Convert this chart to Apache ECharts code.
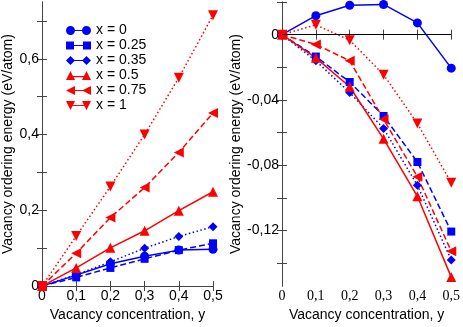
<!DOCTYPE html>
<html>
<head>
<meta charset="utf-8">
<script src="https://cdn.jsdelivr.net/npm/echarts@6.0.0/dist/echarts.min.js"></script>
<style>
html,body{margin:0;padding:0;background:#fff;}
#chart{width:463px;height:327px;}
</style>
</head>
<body>
<div id="chart"></div>
<script>
// vacancy concentration y (x axis of both panels)
var conc = [0, 0.1, 0.2, 0.3, 0.4, 0.5];
var names = ['x = 0', 'x = 0.25', 'x = 0.35', 'x = 0.5', 'x = 0.75', 'x = 1'];

// left panel
var left0 = [0, 0.029, 0.059, 0.079, 0.095, 0.097];
var left025 = [0, 0.023, 0.048, 0.072, 0.095, 0.113];
var left035 = [0, 0.030, 0.064, 0.100, 0.131, 0.157];
var left05 = [0, 0.048, 0.101, 0.146, 0.199, 0.249];
var left075 = [0, 0.087, 0.181, 0.260, 0.353, 0.457];
var left1 = [0, 0.132, 0.263, 0.400, 0.550, 0.715];

// right panel
var right0 = [0, 0.0116, 0.0180, 0.0185, 0.0072, -0.0205];
var right025 = [0, -0.0134, -0.0290, -0.0498, -0.0780, -0.1206];
var right035 = [0, -0.0160, -0.0355, -0.0574, -0.0923, -0.1380];
var right05 = [0, -0.0142, -0.0319, -0.0638, -0.0990, -0.1485];
var right075 = [0, -0.0060, -0.0160, -0.0518, -0.0870, -0.1326];
var right1 = [0, 0.0060, -0.0034, -0.0245, -0.0544, -0.0907];

// ticks
var xTicks = [0, 0.1, 0.2, 0.3, 0.4, 0.5];
var leftYTicks = [0, 0.1, 0.2, 0.3, 0.4, 0.5, 0.6, 0.7];
var leftYLabels = [0, 0.2, 0.4, 0.6];
var rightYTicks = [-0.14, -0.12, -0.1, -0.08, -0.06, -0.04, -0.02, 0, 0.02];
var rightYLabels = [-0.12, -0.08, -0.04, 0];

var BLUE = '#0000ff', RED = '#ff0000';
var FONT = '"Liberation Sans", Arial, sans-serif';
var frame = {show: true, lineStyle: {color: '#444', width: 1}};

function fmt(d) {
    return function (v) {
        if (Math.abs(v) < 1e-9) return '0';
        return v.toFixed(d).replace('.', ',');
    };
}

// look of each curve: symbol, rotate, size, color, line type
var looks = [
    {sym: 'circle', rot: 0, size: 9, color: BLUE, type: 'solid',
     icon: 'path://M0,4.5A4.5,4.5 0 1,1 9,4.5A4.5,4.5 0 1,1 0,4.5ZM16,4.5A4.5,4.5 0 1,1 25,4.5A4.5,4.5 0 1,1 16,4.5ZM8,3.9h9v1.2h-9Z'},
    {sym: 'rect', rot: 0, size: 8, color: BLUE, type: [6, 3],
     icon: 'path://M0,0.5h8v8h-8ZM17,0.5h8v8h-8ZM8,3.9h9v1.2h-9Z'},
    {sym: 'diamond', rot: 0, size: 9, color: BLUE, type: [1.5, 2.5],
     icon: 'path://M0,4.5L4.5,0L9,4.5L4.5,9ZM16,4.5L20.5,0L25,4.5L20.5,9ZM8,3.9h9v1.2h-9Z'},
    {sym: 'triangle', rot: 0, size: 10, color: RED, type: 'solid',
     icon: 'path://M0,9L4.5,0L9,9ZM16,9L20.5,0L25,9ZM7,5h11v1.2h-11Z'},
    {sym: 'triangle', rot: 90, size: 10, color: RED, type: [6, 3],
     icon: 'path://M0,4.5L9,0L9,9ZM16,4.5L25,0L25,9ZM8,3.9h9v1.2h-9Z'},
    {sym: 'triangle', rot: 180, size: 10, color: RED, type: [1.5, 2.5],
     icon: 'path://M0,0L9,0L4.5,9ZM16,0L25,0L20.5,9ZM6,3.9h13v1.2h-13Z'}
];

var leftSets = [left0, left025, left035, left05, left075, left1];
var rightSets = [right0, right025, right035, right05, right075, right1];

function pairs(vals) {
    return conc.map(function (c, i) { return [c, vals[i]]; });
}

var series = [];
function addSeries(sets, xi, yi) {
    sets.forEach(function (vals, k) {
        var lk = looks[k];
        var s = {
            name: names[k],
            type: 'line',
            xAxisIndex: xi,
            yAxisIndex: yi,
            data: pairs(vals),
            symbol: lk.sym,
            symbolRotate: lk.rot,
            symbolSize: lk.size,
            showAllSymbol: true,
            clip: false,
            animation: false,
            itemStyle: {color: lk.color},
            lineStyle: {color: lk.color, width: 1.5, type: lk.type}
        };
        series.push(s);
    });
}
addSeries(leftSets, 0, 0);
addSeries(rightSets, 2, 2);

// horizontal zero line in right panel
series[6].markLine = {
    silent: true,
    symbol: 'none',
    label: {show: false},
    lineStyle: {color: '#000', width: 1, type: 'solid'},
    data: [{yAxis: 0}]
};

function xAxisDef(grid, pos, labels, serif) {
    return {
        type: 'value', gridIndex: grid, position: pos, min: 0, max: 0.5,
        axisLine: frame,
        splitLine: {show: false},
        axisTick: {show: true, inside: true, length: 5, customValues: xTicks, lineStyle: {color: '#444'}},
        axisLabel: {show: labels, customValues: xTicks, formatter: fmt(1), margin: 3,
            color: '#000', fontSize: 14, fontFamily: serif ? '"Liberation Serif", "Times New Roman", serif' : FONT},
        name: labels ? 'Vacancy concentration, y' : '',
        nameLocation: 'middle', nameGap: 19,
        nameTextStyle: {color: '#000', fontSize: 14, fontFamily: FONT}
    };
}

function yAxisDef(grid, pos, min, max, ticks, labels, dec, gap) {
    return {
        type: 'value', gridIndex: grid, position: pos, min: min, max: max,
        axisLine: frame,
        splitLine: {show: false},
        axisTick: {show: true, inside: true, length: 5, customValues: ticks, lineStyle: {color: '#444'}},
        axisLabel: {show: !!labels, customValues: labels || ticks, formatter: fmt(dec), margin: 3,
            color: '#000', fontSize: 14, fontFamily: FONT},
        name: labels ? 'Vacancy ordering energy (eV/atom)' : '',
        nameLocation: 'middle', nameGap: gap,
        nameTextStyle: {color: '#000', fontSize: 14, fontFamily: FONT}
    };
}

var chart = echarts.init(document.getElementById('chart'), null, {renderer: 'canvas'});
chart.setOption({
    animation: false,
    backgroundColor: '#fff',
    grid: [
        {left: 41, top: 2, width: 172, height: 290},
        {left: 282, top: 2, width: 172, height: 290}
    ],
    legend: {
        orient: 'vertical', left: 61, top: 18,
        itemWidth: 25, itemHeight: 9, itemGap: 0,
        selectedMode: false,
        textStyle: {color: '#000', fontSize: 14, lineHeight: 15, fontFamily: FONT},
        data: names.map(function (n, k) { return {name: n, icon: looks[k].icon}; })
    },
    xAxis: [
        xAxisDef(0, 'bottom', true, false),
        xAxisDef(0, 'top', false, false),
        xAxisDef(1, 'bottom', true, true),
        xAxisDef(1, 'top', false, false)
    ],
    yAxis: [
        yAxisDef(0, 'left', 0, 0.75, leftYTicks, leftYLabels, 1, 27),
        yAxisDef(0, 'right', 0, 0.75, leftYTicks, null, 1, 0),
        yAxisDef(1, 'left', -0.154, 0.02, rightYTicks, rightYLabels, 2, 38),
        yAxisDef(1, 'right', -0.154, 0.02, rightYTicks, null, 2, 0)
    ],
    series: series
});
</script>
</body>
</html>
